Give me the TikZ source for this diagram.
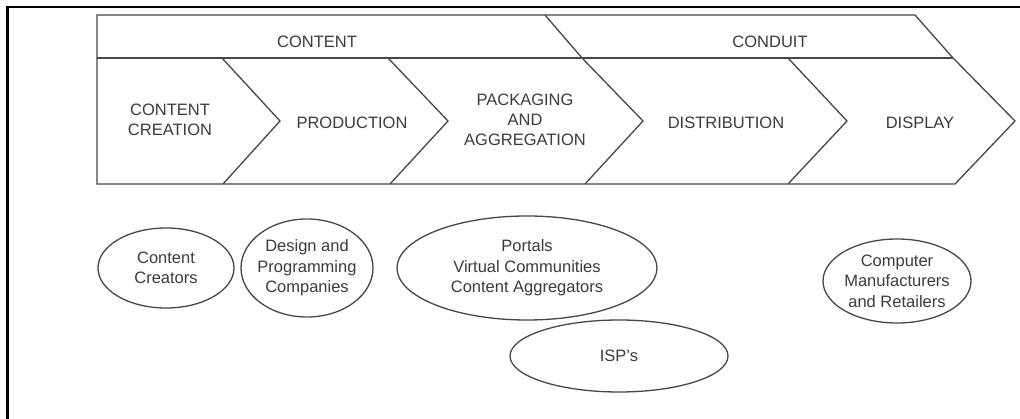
\documentclass[tikz,border=0pt]{standalone}
\usepackage{fontspec}
\setmainfont{Liberation Sans}
\usetikzlibrary{shapes.geometric}
\definecolor{ink}{HTML}{474747}
\definecolor{txt}{HTML}{3C3C3C}
\begin{document}
\begin{tikzpicture}[x=1pt,y=-1pt,
  outline/.style={draw=ink,line width=1.3pt,line join=miter},
  frameline/.style={draw=black,line width=2.4pt,line join=miter},
  caps/.style={text=txt,font=\fontsize{16.5}{20}\selectfont,align=center,inner sep=0pt},
  org/.style={ellipse,draw=ink,line width=1.3pt,text=txt,
    font=\fontsize{16.5}{20.5}\selectfont,align=center,
    inner xsep=-15pt,inner ysep=0pt}]
\useasboundingbox (0,0) rectangle (1020,419);
\fill[white] (0,0) rectangle (1020,419);

% page frame
\draw[frameline] (7.5,419) -- (7.5,7) -- (1020,7);

% value chain: header band and chevrons
\draw[outline] (97,15) -- (915,15) -- (953,58) -- (1015,121) -- (955,184) -- (97,184) -- cycle;
\draw[outline] (97,58) -- (953,58);
\draw[outline] (222,58) -- (280,121) -- (223,184);
\draw[outline] (388,58) -- (448,121) -- (390,184);
\draw[outline] (545,15) -- (582,58) -- (643,121) -- (585,184);
\draw[outline] (788,58) -- (847,121) -- (788,184);

% header labels
\node[caps] (content) at (317,42) {CONTENT};
\node[caps] (conduit) at (770,42) {CONDUIT};

% stage labels
\node[caps] (creation)     at (170,120) {CONTENT\\CREATION};
\node[caps] (production)   at (352,123) {PRODUCTION};
\node[caps] (packaging)    at (525,120) {PACKAGING\\AND\\AGGREGATION};
\node[caps] (distribution) at (726,123) {DISTRIBUTION};
\node[caps] (display)      at (920,123) {DISPLAY};

% players at each stage
\node[org,minimum width=136pt,minimum height=80pt]  (creators) at (166,268) {Content\\Creators};
\node[org,minimum width=132pt,minimum height=98pt]  (design)   at (307,268) {Design and\\Programming\\Companies};
\node[org,minimum width=260pt,minimum height=104pt] (portals)  at (527,268) {Portals\\Virtual Communities\\Content Aggregators};
\node[org,minimum width=218pt,minimum height=72pt]  (isp)      at (619,356) {ISP’s};
\node[org,minimum width=148pt,minimum height=84pt]  (computer) at (897,281) {Computer\\Manufacturers\\and Retailers};
\end{tikzpicture}
\end{document}
